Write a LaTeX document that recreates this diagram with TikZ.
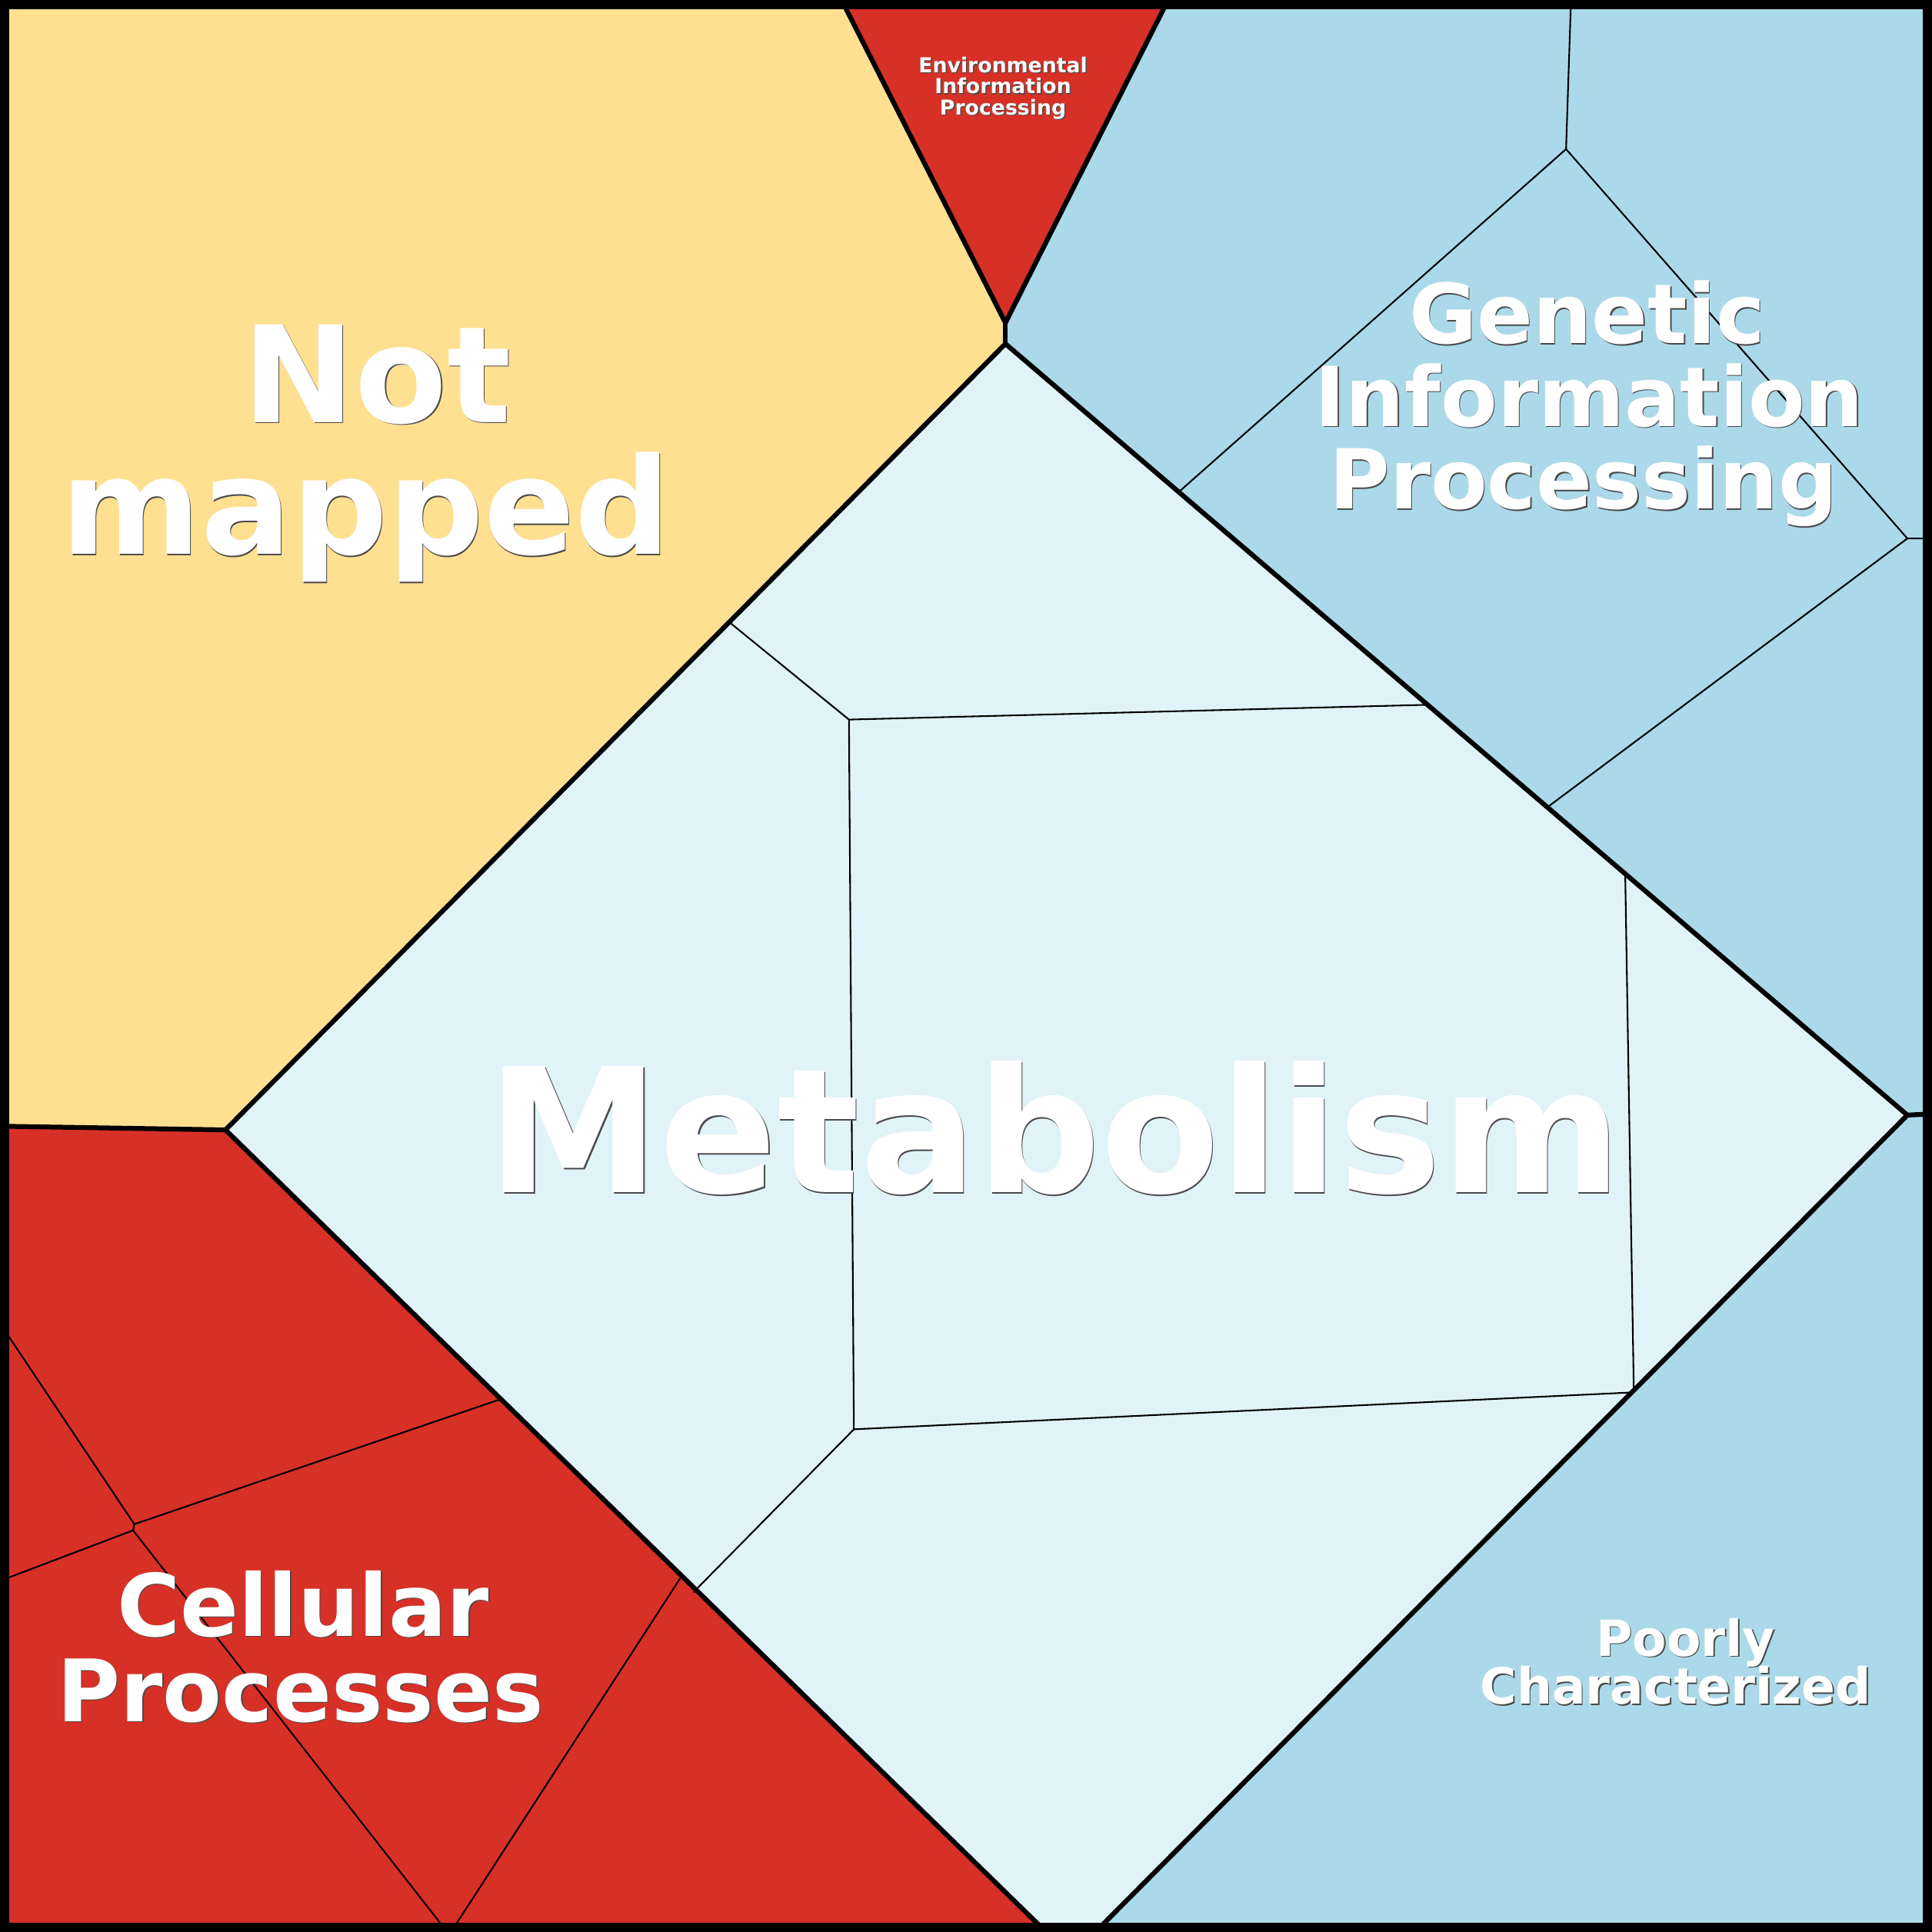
\documentclass[tikz,border=0pt]{standalone}
\usepackage{fontspec}
\setmainfont{DejaVu Sans}
\definecolor{cyel}{HTML}{FEE090}
\definecolor{cred}{HTML}{D73027}
\definecolor{cblue}{HTML}{ABD9E9}
\definecolor{cmeta}{HTML}{E0F3F8}
\definecolor{cshadow}{HTML}{4A4A4A}
\tikzset{
  lbl/.style={anchor=base, inner sep=0pt, text=white, font=\bfseries},
  thickedge/.style={line width=0.39mm, line join=round, line cap=round},
  thinedge/.style={line width=0.13mm, line join=round, line cap=round},
}
\newcommand\shlabel[5]{%
  \node[lbl, text=cshadow, xshift=0.09mm, yshift=-0.09mm] at (#2,#3) {\fontsize{#4}{#4}\selectfont #5};
  \node[lbl] (#1) at (#2,#3) {\fontsize{#4}{#4}\selectfont #5};
}
\begin{document}
\begin{tikzpicture}[x=0.1mm, y=-0.1mm]
\useasboundingbox (0,0) rectangle (1568,1568);
% fills
\fill[cyel] (0,0) -- (683,0) -- (816,262) -- (816,279) -- (183,917) -- (0,914) -- cycle;
\fill[cred] (683,0) -- (948,0) -- (816,262) -- cycle;
\fill[cblue] (948,0) -- (1568,0) -- (1568,904) -- (1548,905) -- (816,279) -- (816,262) -- cycle;
\fill[cmeta] (816,279) -- (1548,905) -- (889,1568) -- (849,1568) -- (183,917) -- cycle;
\fill[cblue] (1548,905) -- (1568,904) -- (1568,1568) -- (889,1568) -- cycle;
\fill[cred] (0,914) -- (183,917) -- (849,1568) -- (0,1568) -- cycle;
% thin edges
\draw[thinedge] (1275,0) -- (1271,121) -- (957,399);
\draw[thinedge] (1271,121) -- (1548,437) -- (1568,437);
\draw[thinedge] (1548,437) -- (1256,655);
\draw[thinedge] (592,505) -- (689,584) -- (1158,572);
\draw[thinedge] (689,584) -- (693,1160) -- (1326,1130) -- (1319,709);
\draw[thinedge] (693,1160) -- (563,1292);
\draw[thinedge] (0,1074) -- (109,1237) -- (405,1136);
\draw[thinedge] (109,1237) -- (108,1242);
\draw[thinedge] (0,1283) -- (108,1242) -- (363,1568);
\draw[thinedge] (552,1281) -- (366,1568);
% thick edges
\draw[thickedge] (683,0) -- (816,262) -- (948,0);
\draw[thickedge] (816,262) -- (816,279);
\draw[thickedge] (0,914) -- (183,917) -- (816,279) -- (1548,905) -- (1568,904);
\draw[thickedge] (183,917) -- (849,1568);
\draw[thickedge] (1548,905) -- (889,1568);
% frame
\draw[line width=0.75mm] (3.75,3.75) rectangle (1564.25,1564.25);
% labels
\shlabel{env1}{814}{59}{4.75}{Environmental}
\shlabel{env2}{814}{76}{4.75}{Information}
\shlabel{env3}{814}{93}{4.75}{Processing}
\shlabel{gen1}{1288}{279}{19.1}{Genetic}
\shlabel{gen2}{1290}{346}{19.1}{Information}
\shlabel{gen3}{1285}{413}{19.1}{Processing}
\shlabel{nm1}{306}{343}{31}{Not}
\shlabel{nm2}{297}{450}{31}{mapped}
\shlabel{met}{856}{968}{40}{Metabolism}
\shlabel{cel1}{246}{1328}{19.9}{Cellular}
\shlabel{cel2}{244}{1397}{19.9}{Processes}
\shlabel{poor1}{1368}{1344}{11.5}{Poorly}
\shlabel{poor2}{1360}{1383}{11.5}{Characterized}
\end{tikzpicture}
\end{document}
